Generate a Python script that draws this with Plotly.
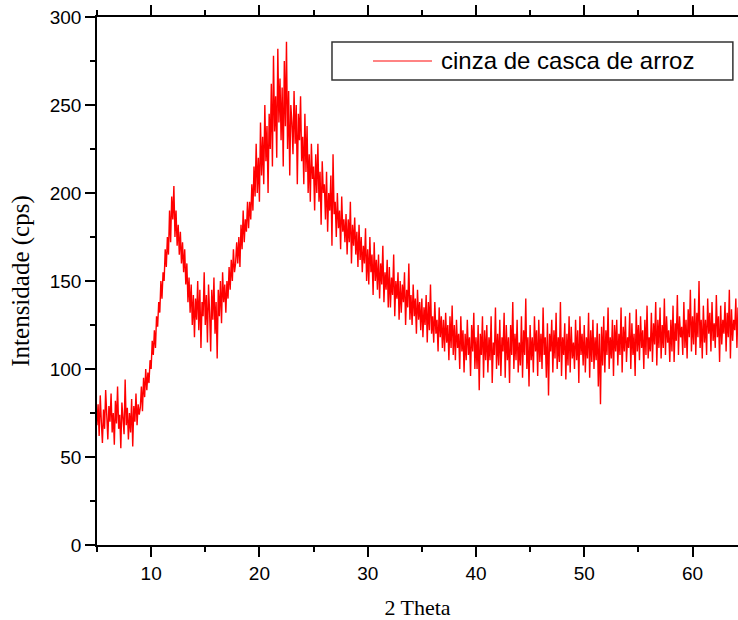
import plotly.graph_objects as go

# Intensity values, one row per degree (0.1 deg step), 2-theta from 5.0
x_start = 5.0
x_step = 0.1
intensity_rows = [
    [68, 80, 62, 85, 70, 58, 77, 66, 88, 72],        # 5
    [60, 79, 70, 86, 64, 75, 57, 82, 69, 90],        # 6
    [66, 74, 55, 81, 71, 63, 94, 68, 78, 60],        # 7
    [75, 64, 83, 56, 79, 70, 86, 68, 80, 74],        # 8
    [78, 90, 76, 95, 84, 100, 88, 98, 92, 105],      # 9
    [100, 116, 108, 122, 112, 130, 124, 138, 132, 150],  # 10
    [140, 155, 150, 168, 158, 175, 165, 190, 172, 198],  # 11
    [185, 204, 175, 190, 170, 182, 165, 178, 160, 172],  # 12
    [155, 168, 148, 160, 138, 152, 132, 148, 125, 142],  # 13
    [118, 140, 128, 150, 122, 145, 112, 138, 130, 155],  # 14
    [125, 142, 115, 148, 132, 110, 145, 128, 152, 120],  # 15
    [138, 106, 145, 130, 150, 126, 155, 138, 148, 132],  # 16
    [150, 140, 158, 145, 162, 150, 168, 155, 160, 172],  # 17
    [160, 175, 158, 182, 168, 190, 172, 185, 178, 195],  # 18
    [180, 195, 185, 205, 190, 215, 198, 228, 200, 220],  # 19
    [195, 240, 210, 232, 205, 250, 218, 238, 200, 245],  # 20
    [225, 262, 215, 278, 235, 255, 220, 282, 240, 265],  # 21
    [230, 260, 215, 275, 238, 286, 225, 258, 210, 250],  # 22
    [240, 222, 258, 228, 250, 205, 245, 230, 255, 218],  # 23
    [232, 205, 245, 212, 238, 200, 222, 195, 228, 208],  # 24
    [215, 190, 222, 200, 228, 195, 212, 182, 218, 200],  # 25
    [205, 185, 212, 178, 200, 190, 210, 170, 222, 188],  # 26
    [195, 175, 200, 180, 190, 168, 198, 178, 185, 172],  # 27
    [188, 165, 185, 172, 195, 160, 182, 170, 186, 165],  # 28
    [178, 158, 182, 162, 175, 155, 170, 160, 180, 150],  # 29
    [168, 148, 175, 155, 165, 142, 172, 150, 162, 145],  # 30
    [165, 140, 160, 148, 170, 138, 155, 145, 162, 135],  # 31
    [158, 135, 152, 142, 165, 130, 150, 140, 155, 128],  # 32
    [150, 132, 148, 138, 155, 125, 145, 135, 160, 128],  # 33
    [142, 125, 148, 130, 140, 120, 145, 128, 138, 122],  # 34
    [140, 118, 135, 125, 142, 115, 138, 122, 148, 120],  # 35
    [130, 115, 138, 120, 128, 110, 135, 118, 130, 112],  # 36
    [128, 110, 132, 115, 125, 105, 130, 112, 136, 108],  # 37
    [125, 105, 128, 112, 120, 100, 130, 110, 122, 98],   # 38
    [120, 105, 128, 108, 118, 96, 125, 110, 132, 100],   # 39
    [118, 100, 125, 88, 120, 108, 130, 95, 122, 105],    # 40
    [125, 98, 118, 105, 130, 92, 115, 108, 135, 100],    # 41
    [120, 102, 128, 96, 118, 110, 132, 95, 125, 105],    # 42
    [118, 92, 125, 108, 138, 100, 120, 105, 128, 98],    # 43
    [115, 102, 130, 95, 122, 108, 140, 100, 118, 90],    # 44
    [125, 105, 118, 98, 130, 110, 122, 96, 128, 104],    # 45
    [120, 100, 135, 108, 118, 95, 126, 85, 120, 110],    # 46
    [128, 98, 122, 106, 132, 100, 118, 104, 138, 96],    # 47
    [118, 108, 126, 94, 120, 102, 130, 98, 124, 106],    # 48
    [115, 100, 128, 105, 122, 92, 130, 108, 120, 102],   # 49
    [125, 98, 118, 106, 132, 95, 122, 104, 128, 100],    # 50
    [118, 105, 126, 90, 120, 80, 124, 102, 130, 98],     # 51
    [122, 108, 135, 100, 118, 106, 128, 96, 125, 110],   # 52
    [128, 102, 120, 108, 135, 98, 124, 110, 130, 104],   # 53
    [118, 112, 132, 100, 126, 108, 120, 96, 134, 110],   # 54
    [125, 105, 130, 112, 122, 100, 128, 108, 136, 106],  # 55
    [118, 110, 132, 104, 126, 114, 138, 102, 128, 112],  # 56
    [135, 106, 125, 112, 140, 108, 130, 115, 122, 104],  # 57
    [128, 110, 136, 104, 126, 116, 142, 108, 130, 118],  # 58
    [124, 108, 138, 112, 128, 106, 134, 118, 145, 110],  # 59
    [130, 114, 140, 108, 132, 118, 150, 112, 128, 106],  # 60
    [136, 115, 128, 108, 140, 120, 132, 110, 138, 116],  # 61
    [126, 112, 142, 118, 130, 104, 136, 114, 128, 120],  # 62
    [138, 110, 132, 118, 145, 106, 134, 116, 128, 122],  # 63
    [140, 112, 135],                                     # 64
]
intensity = [v for row in intensity_rows for v in row]
two_theta = [round(x_start + i * x_step, 2) for i in range(len(intensity))]

series_name = "cinza de casca de arroz"
x_title = "2 Theta"
y_title = "Intensidade (cps)"
x_ticks = [10, 20, 30, 40, 50, 60]
y_ticks = [0, 50, 100, 150, 200, 250, 300]

fig = go.Figure()
fig.add_trace(go.Scatter(
    x=two_theta, y=intensity, mode="lines", name=series_name,
    line=dict(color="#ff0000", width=1.4), showlegend=False,
))

axis_common = dict(
    showline=True, linecolor="black", linewidth=1.5,
    ticks="outside", tickcolor="black", tickwidth=1.5, ticklen=10,
    showgrid=False, zeroline=False, automargin=False,
    tickfont=dict(family="Liberation Sans, Arial", size=19, color="black"),
)

fig.update_xaxes(
    range=[5, 64.2], tickvals=x_ticks, mirror="ticks",
    minor=dict(dtick=5, tick0=0, ticks="outside", ticklen=5, tickwidth=1.5, tickcolor="black"),
    title=dict(text=x_title, font=dict(family="Liberation Serif, Times New Roman", size=22, color="black"), standoff=23),
    **axis_common,
)
fig.update_yaxes(
    range=[0, 300], tickvals=y_ticks,
    minor=dict(dtick=25, tick0=0, ticks="outside", ticklen=5, tickwidth=1.5, tickcolor="black"),
    title=dict(text=y_title, font=dict(family="Liberation Serif, Times New Roman", size=25, color="black"), standoff=13),
    **axis_common,
)

# Legend drawn as box + sample line + text
fig.add_shape(type="rect", xref="paper", yref="paper", x0=0.3666, x1=0.992, y0=0.8807, y1=0.9527,
              line=dict(color="#333333", width=1.5), fillcolor="white", layer="above")
fig.add_shape(type="line", xref="paper", yref="paper", x0=0.4306, x1=0.5226, y0=0.9167, y1=0.9167,
              line=dict(color="#ff5a5a", width=1.5), layer="above")
fig.add_annotation(xref="paper", yref="paper", x=0.534, y=0.9167, xanchor="left", yanchor="middle",
                   text=series_name, showarrow=False,
                   font=dict(family="Liberation Sans, Arial", size=24, color="black"))

fig.update_layout(
    width=738, height=620,
    margin=dict(l=97, r=0, t=17, b=75),
    plot_bgcolor="white", paper_bgcolor="white",
)

fig.write_html("out.html")
